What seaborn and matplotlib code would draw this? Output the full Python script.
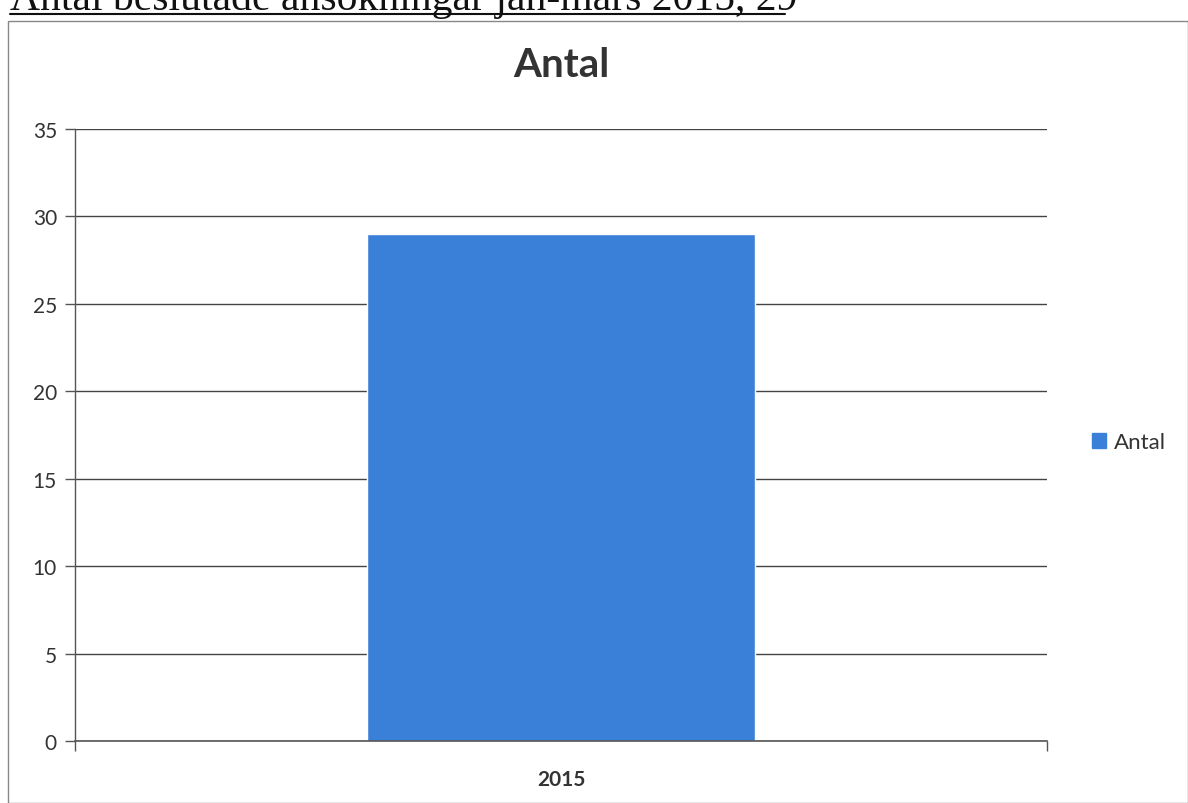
import matplotlib
matplotlib.use("Agg")
import matplotlib.pyplot as plt
import seaborn as sns
import pandas as pd
from matplotlib.lines import Line2D
from matplotlib.patches import Rectangle

categories = ["2015"]
values = [29]
series_name = "Antal"
yticks = [0, 5, 10, 15, 20, 25, 30, 35]
heading = "Antal beslutade ansökningar jan-mars 2015, 29"

df = pd.DataFrame({"År": categories, series_name: values})

sns.set_style("white")
plt.rcParams["font.family"] = ["Lato", "DejaVu Sans"]

W, H = 1188, 804
fig = plt.figure(figsize=(W / 100, H / 100), dpi=100)
ax = fig.add_axes([75 / W, 1 - 742 / H, (1047 - 75) / W, (742 - 130) / H])

bar_color = "#3b80d8"
sns.barplot(data=df, x="År", y=series_name, ax=ax, color=bar_color, width=0.4,
            saturation=1)

ax.set_ylim(0, 35)
ax.set_xlim(-0.5, 0.5)
ax.set_yticks(yticks)
ax.set_yticklabels([str(v) for v in yticks], fontsize=15, color="#333333")
ax.set_xticks([0])
ax.set_xticklabels(categories, fontsize=15, fontweight="bold", color="#333333")
ax.tick_params(axis="x", which="major", bottom=False, length=0, pad=20)
ax.tick_params(axis="y", left=True, length=7, width=1, color="#555555", pad=6, direction="out")
ax.set_xticks([-0.5, 0.5], minor=True)
ax.tick_params(axis="x", which="minor", bottom=True, length=7, width=1, color="#555555",
               direction="out")
ax.set_xlabel("")
ax.set_ylabel("")
ax.yaxis.grid(True, color="#444444", linewidth=1)
ax.set_axisbelow(True)
for s in ["top", "right"]:
    ax.spines[s].set_visible(False)
ax.spines["left"].set_color("#555555")
ax.spines["bottom"].set_color("#555555")
ax.spines["left"].set_linewidth(1)
ax.spines["bottom"].set_linewidth(1.2)

ax.set_title("Antal", fontsize=29, fontweight="bold", color="#333333", pad=38)

handle = Rectangle((0, 0), 1, 1, color=bar_color)
fig.legend([handle], [series_name], loc="center left",
           bbox_to_anchor=(1072 / W, 1 - 443 / H), frameon=False,
           fontsize=16, handlelength=0.65, handleheight=0.65, handletextpad=0.35,
           labelcolor="#333333")

# chart frame
fig.add_artist(Rectangle((8 / W, 0), (W - 8) / W, 1 - 22 / H, transform=fig.transFigure,
                         fill=False, edgecolor="#888888", linewidth=1))

# heading above the chart, cut off at the top edge as in the scanned reference
fig.text(10 / W, 1 - 10 / H, heading, fontsize=30, family=["Liberation Serif"],
         va="baseline", ha="left", color="#111111")
fig.add_artist(Line2D([10 / W, 785 / W], [1 - 15 / H, 1 - 15 / H],
                      transform=fig.transFigure, color="#111111", linewidth=1.5))

fig.savefig("out.png", dpi=100)
